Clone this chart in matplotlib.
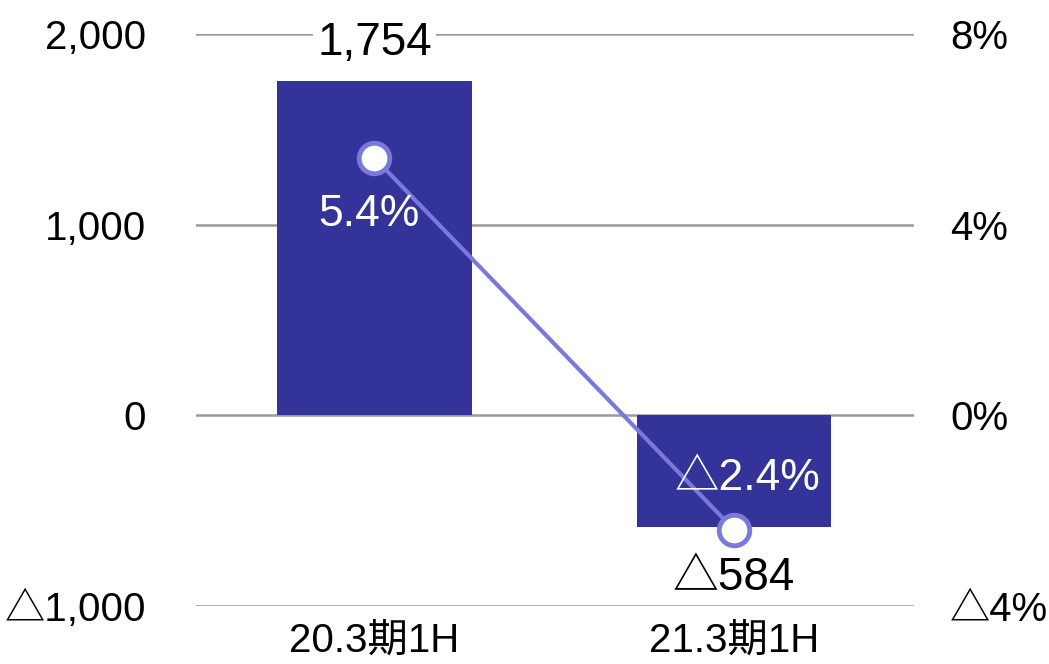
import matplotlib
matplotlib.use("Agg")
import matplotlib.pyplot as plt
from matplotlib.ticker import FixedLocator

plt.rcParams['font.family'] = ['Liberation Sans', 'Noto Sans CJK JP', 'DejaVu Sans']

categories = ["20.3期1H", "21.3期1H"]
profit = [1754, -584]
profit_labels = ["1,754", "△584"]
margin = [5.4, -2.4]
margin_labels = ["5.4%", "△2.4%"]
left_ticks = [-1000, 0, 1000, 2000]
left_labels = ["△1,000", "0", "1,000", "2,000"]
right_ticks = [-4, 0, 4, 8]
right_labels = ["△4%", "0%", "4%", "8%"]

bar_color = "#343399"
line_color = "#7b78dc"

fig = plt.figure(figsize=(10.49, 6.64), dpi=100)
ax = fig.add_axes([196/1049, 1 - 606/664, 718/1049, 572/664])
x = list(range(len(categories)))

ax.bar(x, profit, width=0.54, color=bar_color, zorder=2)
ax.set_xlim(-0.496, 1.5)
ax.set_ylim(-1000, 2000)
ax.yaxis.set_major_locator(FixedLocator(left_ticks))
ax.set_yticklabels(left_labels)
ax.grid(axis="y", color="#9a9a9a", linewidth=1.8, zorder=0)
ax.set_axisbelow(True)
ax.set_xticks(x)
ax.set_xticklabels(categories)
for s in ax.spines.values():
    s.set_visible(False)
ax.tick_params(axis="y", length=0, pad=36, labelsize=29)
ax.tick_params(axis="x", length=0, pad=11, labelsize=29)

for i, (v, lab) in enumerate(zip(profit, profit_labels)):
    off = 27 if v > 0 else -37
    ax.annotate(lab, (i, v), xytext=(0, off), textcoords="offset points",
                ha="center", va="center", fontsize=33, color="black",
                bbox=dict(facecolor="white", edgecolor="none", pad=3), zorder=5)

ax2 = ax.twinx()
ax2.set_ylim(-4, 8)
ax2.yaxis.set_major_locator(FixedLocator(right_ticks))
ax2.set_yticklabels(right_labels)
for s in ax2.spines.values():
    s.set_visible(False)
ax2.tick_params(axis="y", length=0, pad=26, labelsize=29)
ax2.plot(x, margin, color=line_color, linewidth=3, marker="o", markersize=22,
         markerfacecolor="white", markeredgecolor=line_color, markeredgewidth=3.5, zorder=3)

offsets = [(-4, -41), (10, 37)]
for i, (v, lab) in enumerate(zip(margin, margin_labels)):
    ax2.annotate(lab, (i, v), xytext=offsets[i], textcoords="offset points",
                 ha="center", va="center", fontsize=32, color="white", zorder=4)

fig.savefig("out.png", dpi=100)
